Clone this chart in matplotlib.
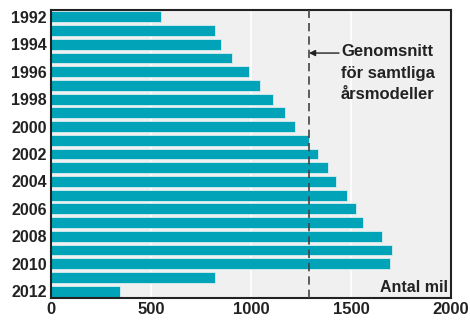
import matplotlib
matplotlib.use("Agg")
import matplotlib.pyplot as plt

years = list(range(1992, 2013))
values = [550, 820, 850, 905, 990, 1047, 1110, 1170, 1220, 1292, 1337,
          1385, 1423, 1480, 1525, 1560, 1655, 1705, 1695, 820, 345]
average = 1290
xticks = [0, 500, 1000, 1500, 2000]
ytick_years = list(range(1992, 2013, 2))

plt.rcParams['font.family'] = ['Liberation Sans', 'DejaVu Sans']

fig = plt.figure(figsize=(4.7, 3.22), dpi=100)
ax = fig.add_axes([0.1085, 0.0745, 0.851, 0.8945])
ax.set_facecolor('#f0f0f0')

for x in [500, 1000, 1500]:
    ax.axvline(x, color='white', lw=1.2, zorder=1)

ax.barh(years, values, height=0.8, color='#00a3b8', edgecolor='#d8eef0',
        linewidth=0.6, zorder=2)
ax.axvline(average, color='#444444', lw=1.2, ls=(0, (5, 3)), zorder=3)

ax.set_xlim(0, 2000)
ax.set_ylim(2012.5, 1991.5)
ax.set_xticks(xticks)
ax.set_yticks(ytick_years)
ax.set_xticklabels([str(t) for t in xticks], fontsize=12, fontweight='bold', color='#222222')
ax.set_yticklabels([str(y) for y in ytick_years], fontsize=11.5, fontweight='bold', color='#222222')
ax.tick_params(axis='both', length=0, pad=3)

for s in ax.spines.values():
    s.set_linewidth(1.5)
    s.set_color('#222222')

ax.annotate('', xy=(average, 1994.64), xytext=(1440, 1994.64),
            arrowprops=dict(arrowstyle='-|>', color='#222222', lw=1.0,
                            mutation_scale=9, shrinkA=0, shrinkB=0), zorder=4)
ax.text(1450, 1994.0, 'Genomsnitt\nför samtliga\nårsmodeller', fontsize=12,
        fontweight='bold', color='#222222', ha='left', va='top',
        multialignment='left', linespacing=1.52, zorder=4)
ax.text(1985, 2012.25, 'Antal mil', fontsize=11.5, fontweight='bold',
        color='#222222', ha='right', va='bottom', zorder=4)

fig.savefig('out.png', dpi=100)
